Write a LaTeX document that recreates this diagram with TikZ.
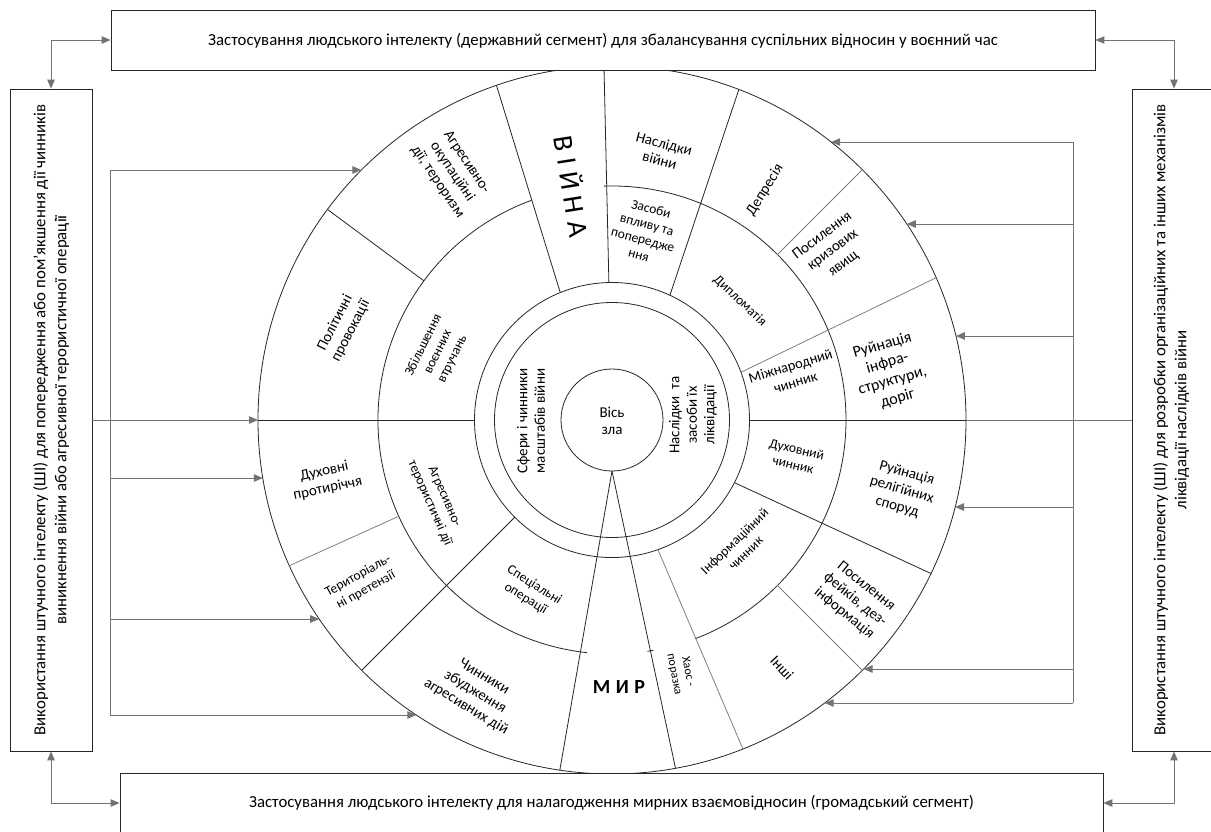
\documentclass[tikz,border=0pt]{standalone}
\usepackage{fontspec}
\setmainfont{Carlito}
\usetikzlibrary{arrows.meta,calc}
\begin{document}
\begin{tikzpicture}[x=1pt,y=1pt,
  box/.style={draw=black!85, line width=0.9pt, fill=white, inner sep=0pt},
  blk/.style={draw=black!85, line width=0.8pt},
  gry/.style={draw=black!50, line width=0.8pt},
  gline/.style={draw=black!55, line width=1pt},
  conn/.style={draw=black!55, line width=1pt, -{Triangle[length=9pt,width=7.5pt]}},
  bidir/.style={draw=black!55, line width=1pt, {Triangle[length=9pt,width=7.5pt]}-{Triangle[length=9pt,width=7.5pt]}},
  lbl/.style={align=center, inner sep=0pt, font=\fontsize{15}{17.5}\selectfont},
  slbl/.style={align=center, inner sep=0pt, font=\fontsize{13.5}{16}\selectfont},
  btxt/.style={align=center, inner sep=0pt, font=\fontsize{16.8}{21}\selectfont}
]
\fill[white] (0,0) rectangle (1211,-831);
\useasboundingbox (0,0) rectangle (1211,-831);

% ---------- wheel ----------
\coordinate (C) at (612,-420);
\begin{scope}[shift={(612,-420)}]
  \draw[blk] (0,0) circle[radius=354];
  \draw[blk] (0,0) circle[radius=137.5];
  \draw[blk] (0,0) circle[radius=117.5];
  \draw[blk] (0,0) circle[radius=51];
  % middle ring arcs
  \draw[blk] (110.1:234) arc[start angle=110.1, end angle=263.9, radius=234];
  \draw[blk] (92:234) arc[start angle=92, end angle=-69.2, radius=234];
  \draw[blk] (-79.8:234) arc[start angle=-79.8, end angle=-81.3, radius=234];
  % spokes
  \draw[blk] (143.5:234) -- (143.5:354);
  \draw[blk] (112.1:137.5) -- (109.05:354);
  \draw[blk] (91.3:137.5) -- (91.3:354);
  \draw[blk] (65.1:137.5) -- (69:354);
  \draw[gry] (45:234) -- (45:354);
  \draw[gry] (20.3:137.5) -- (23.7:354);
  \draw[blk] (0:137.5) -- (0:354);
  \draw[blk] (-27.1:137.5) -- (-25.7:354);
  \draw[gry] (-45:234) -- (-45:354);
  \draw[gry] (-70.5:137.5) -- (-68.3:354);
  \draw[blk] (0,-51) -- (-52.2,-350.2);
  \draw[blk] (0,-51) -- (63.5,-348.3);
  \draw[gry] (204.3:234) -- (204.3:354);
  \draw[blk] (225:137.5) -- (225:354);
  \draw[blk] (180:137.5) -- (180:354);
\end{scope}

% ---------- wheel labels ----------
\node[lbl] (c0) at (612,-421) {Вісь\\зла};
\node[lbl, rotate=90] (c1) at (531,-421) {Сфери і чинники\\масштабів війни};
\node[lbl, rotate=90] (c2) at (693,-415) {Наслідки~~та\\засоби їх\\ліквідації};

\node[inner sep=0pt, rotate=-81, font=\fontsize{28}{30}\selectfont] (vijna) at (573,-186) {В\hspace{7pt}І\hspace{7pt}Й\hspace{7pt}Н\hspace{7pt}А};
\node[inner sep=0pt, font=\fontsize{20}{22}\selectfont\bfseries] (myr) at (619,-687) {М\hspace{5.5pt}И\hspace{5.5pt}Р};

\node[lbl, rotate=-56] (a1) at (452,-172) {Агресивно-\\окупаційні\\дії, тероризм};
\node[lbl, rotate=63] (a2) at (343,-327) {Політичні\\провокації};
\node[slbl, rotate=64] (a3) at (438,-352) {Збільшення\\воєнних\\втручань};
\node[lbl, rotate=-15] (a4) at (662,-152) {Наслідки\\війни};
\node[slbl, rotate=-15] (a5) at (645,-232) {Засоби\\впливу та\\попередже\\ння};
\node[lbl, rotate=58] (a6) at (765,-190) {Депресія};
\node[lbl, rotate=37] (a7) at (833,-250) {Посилення\\кризових\\явищ};
\node[slbl, rotate=-43] (a8) at (740,-301) {Дипломатія};
\node[align=center, inner sep=0pt, font=\fontsize{14.5}{17}\selectfont, rotate=17] (a9) at (793,-374) {Міжнародний\\чинник};
\node[lbl, font=\fontsize{16}{18.5}\selectfont, rotate=16] (a10) at (890,-372) {Руйнація\\інфра-\\структури,\\доріг};
\node[slbl, rotate=-13] (a11) at (795,-457) {Духовний\\чинник};
\node[lbl, rotate=-16] (a12) at (902,-490) {Руйнація\\релігійних\\споруд};
\node[slbl, rotate=44] (a13) at (740,-547) {Інформаційний\\чинник};
\node[lbl, rotate=-39] (a14) at (855,-600) {Посилення\\фейків, дез-\\інформація};
\node[lbl, rotate=-47] (a15) at (782,-668) {Інші};
\node[align=center, inner sep=0pt, font=\fontsize{12}{14}\selectfont, rotate=-79] (a16) at (681,-673) {Хаос -\\поразка};
\node[slbl, rotate=-32] (a17) at (530,-592) {Спеціальні\\операції};
\node[lbl, rotate=-31] (a18) at (475,-692) {Чинники\\збудження\\агресивних дій};
\node[slbl, rotate=29] (a19) at (362,-583) {Територіаль-\\ні претензії};
\node[lbl, rotate=12] (a20) at (326,-480) {Духовні\\протиріччя};
\node[slbl, rotate=-66] (a21) at (437,-500) {Агресивно-\\терористичні дії};

% ---------- boxes ----------
\node[box, minimum width=984pt, minimum height=60pt] (topbox) at (603,-40) {};
\node[btxt] (toptxt) at (603,-41) {Застосування людського інтелекту (державний сегмент) для збалансування суспільних відносин у воєнний час};
\node[box, minimum width=983pt, minimum height=60pt] (botbox) at (611.5,-803) {};
\node[btxt] (bottxt) at (611.5,-803) {Застосування людського інтелекту для налагодження мирних взаємовідносин (громадський сегмент)};
\node[box, minimum width=82pt, minimum height=662pt] (lbox) at (51,-420) {};
\node[btxt, rotate=90] (ltxt) at (51,-420) {Використання штучного інтелекту (ШІ) для попередження або пом’якшення дії чинників\\виникнення війни або агресивної терористичної операції};
\node[box, minimum width=84pt, minimum height=662pt] (rbox) at (1174,-420) {};
\node[btxt, rotate=90] (rtxt) at (1171,-420) {Використання штучного інтелекту (ШІ) для розробки організаційних та інших механізмів\\ліквідації наслідків війни};

% ---------- box to box connectors ----------
\draw[bidir] (topbox.west) -| (lbox.north);
\draw[bidir] (topbox.east) -| (rbox.north);
\draw[bidir] (lbox.south) |- (botbox.west);
\draw[bidir] (rbox.south) |- (botbox.east);

% ---------- left bus ----------
\coordinate (lb1) at (110,-170);
\coordinate (lb2) at (110,-478);
\coordinate (lb3) at (110,-619);
\coordinate (lb4) at (110,-715);
\coordinate (tl0) at (258,-420);
\coordinate (tl1) at (361.4,-170);
\coordinate (tl2) at (262.8,-478);
\coordinate (tl3) at (319.2,-619);
\coordinate (tl4) at (416.3,-715);
\draw[gline] (lb1) -- (lb4);
\draw[conn] (lb1) -- (tl1);
\draw[conn] (lbox.east) -- (tl0);
\draw[conn] (lb2) -- (tl2);
\draw[conn] (lb3) -- (tl3);
\draw[conn] (lb4) -- (tl4);

% ---------- right bus ----------
\coordinate (rb1) at (1073,-142);
\coordinate (rb2) at (1073,-224);
\coordinate (rb3) at (1073,-336);
\coordinate (rb4) at (1073,-507);
\coordinate (rb5) at (1073,-669);
\coordinate (rb6) at (1073,-703);
\coordinate (tr0) at (966,-420);
\coordinate (tr1) at (831.2,-142);
\coordinate (tr2) at (906.8,-224);
\coordinate (tr3) at (955.9,-336);
\coordinate (tr4) at (955.1,-507);
\coordinate (tr5) at (863.6,-669);
\coordinate (tr6) at (824.7,-703);
\draw[gline] (rb1) -- (rb6);
\draw[gline] (rbox.west) -- (tr0);
\draw[conn] (rb1) -- (tr1);
\draw[conn] (rb2) -- (tr2);
\draw[conn] (rb3) -- (tr3);
\draw[conn] (rb4) -- (tr4);
\draw[conn] (rb5) -- (tr5);
\draw[conn] (rb6) -- (tr6);
\end{tikzpicture}
\end{document}
